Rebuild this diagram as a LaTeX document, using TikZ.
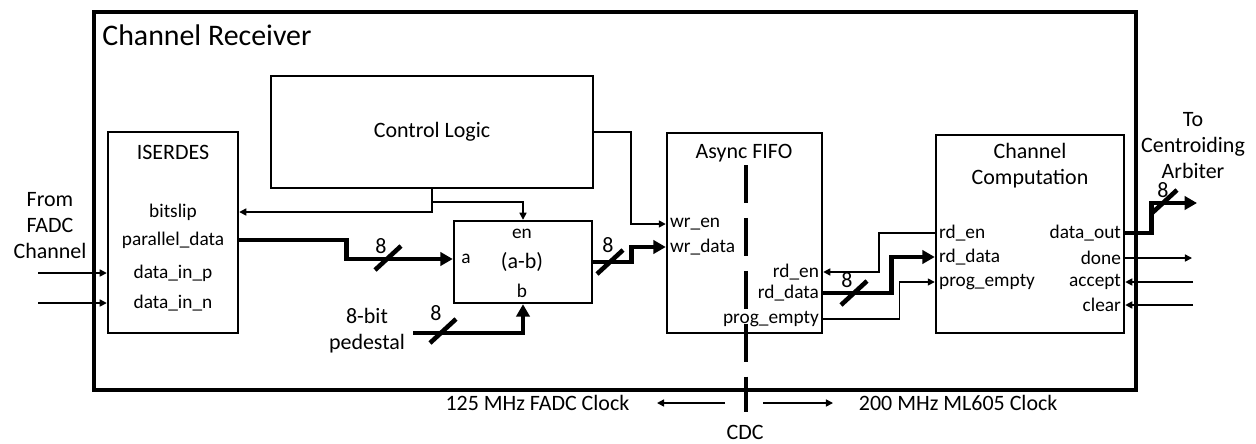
\documentclass[tikz,border=0pt]{standalone}
\usepackage{fontspec}
\setmainfont{Carlito}
\usetikzlibrary{positioning, arrows.meta, fit}

\begin{document}
\begin{tikzpicture}[
  x=0.02cm, y=-0.02cm,
  font=\fontsize{12.5}{14.8}\selectfont,
  box/.style={draw, line width=1.4pt, inner sep=0pt},
  outerbox/.style={draw, line width=2.3pt, inner sep=0pt},
  port/.style={font=\fontsize{11}{13}\selectfont, inner sep=1pt},
  sig/.style={line width=0.85pt, -{Triangle[length=4pt, width=4pt]}},
  bus/.style={line width=2.6pt, -{Triangle[length=7pt, width=7.5pt]}},
  slash/.style={line width=2.6pt},
  cdcline/.style={line width=2.6pt, dash pattern=on 21.6pt off 8.5pt},
]
\useasboundingbox (0,0) rectangle (1256,443);

% Blocks
\node[outerbox, fit={(94,12) (1136,390)}] (rx) {};
\node[anchor=west, inner sep=0pt, font=\fontsize{17}{20}\selectfont] (rxtitle) at (102,35) {Channel Receiver};

\node[box, fit={(108,132) (238,333)}] (iser) {};
\node[box, fit={(271,76) (593,188)}]  (ctrl) {};
\node[box, fit={(454,221) (592,303)}] (sub)  {};
\node[box, fit={(667,133) (822,333)}] (fifo) {};
\node[box, fit={(936,135) (1124,333)}] (comp) {};

% Titles
\node (isertitle) at (173,152) {ISERDES};
\node (ctrltitle) at (ctrl.center) {Control Logic};
\node (fifotitle) at (744,153) {Async FIFO};
\node[align=center] (comptitle) at (1030,166) {Channel\\Computation};
\node (subtitle) at (522,262) {(a-b)};

% ISERDES ports
\node[port] (bits)  at (173,212) {bitslip};
\node[port] (pdata) at (173,240) {parallel\_data};
\node[port] (dinp)  at (173,273) {data\_in\_p};
\node[port] (dinn)  at (173,303) {data\_in\_n};

% Subtractor ports
\node[port] (en)  at (522,234) {en};
\node[port] (ain) at (466,259) {a};
\node[port] (bin) at (522,291) {b};

% FIFO ports
\node[port, anchor=west] (wren)   at (668,224) {wr\_en};
\node[port, anchor=west] (wrdata) at (668,247) {wr\_data};
\node[port, anchor=east] (rden)   at (821,272) {rd\_en};
\node[port, anchor=east] (rddata) at (821,293) {rd\_data};
\node[port, anchor=east] (pe)     at (821,319) {prog\_empty};

% Channel Computation ports
\node[port, anchor=west] (ccrden)   at (937,233) {rd\_en};
\node[port, anchor=west] (ccrddata) at (937,257) {rd\_data};
\node[port, anchor=west] (ccpe)     at (937,282) {prog\_empty};
\node[port, anchor=east] (dout)     at (1123,233) {data\_out};
\node[port, anchor=east] (done)     at (1123,258) {done};
\node[port, anchor=east] (accept)   at (1123,282) {accept};
\node[port, anchor=east] (clear)    at (1123,305) {clear};

% Outside labels
\node[align=center] (fadc) at (50,226) {From\\FADC\\Channel};
\node[align=center] (arbtxt) at (1193,146) {To\\Centroiding\\Arbiter};
\node[align=center] (ped) at (367,331) {8-bit\\pedestal};

% Free ends
\coordinate (inp)   at (38,273);
\coordinate (inn)   at (38,303);
\coordinate (cbr)   at (432,202);
\coordinate (pedin) at (413,333);
\coordinate (arb)   at (1197,203);
\coordinate (donex) at (1192,258);
\coordinate (accx)  at (1193,282);
\coordinate (clrx)  at (1193,305);

% Inputs and control
\draw[sig] (inp) -- (iser.west |- dinp);
\draw[sig] (inn) -- (iser.west |- dinn);
\draw[sig] (ctrl.south) |- (iser.east |- bits);
\draw[sig] (cbr) -| (sub.north);
\draw[sig] (ctrl.east) -- ++(37,0) |- (fifo.west |- wren);

% Data buses
\draw[bus] (iser.east |- pdata) -- ++(107,0) |- (sub.west |- ain);
\draw[bus] (pedin) -| (sub.south);
\draw[bus] (sub.east) -- ++(38,0) |- (fifo.west |- wrdata);
\draw[bus] (fifo.east |- rddata) -- ++(68,0) |- (comp.west |- ccrddata);
\draw[bus] (comp.east |- dout) -- ++(26,0) |- (arb);

% FIFO read side
\draw[sig] (comp.west |- ccrden) -- ++(-56,0) |- (fifo.east |- rden);
\draw[sig] (fifo.east |- pe) -- ++(76,0) |- (comp.west |- ccpe);

% Handshake
\draw[sig] (comp.east |- done) -- (donex);
\draw[sig] (accx) -- (comp.east |- accept);
\draw[sig] (clrx) -- (comp.east |- clear);

% Bus width marks
\foreach \sx/\sy/\lx/\ly in {388/258/381/246, 443/331/436/313, 610/262/608/245, 854/293/847/280, 1164/202/1163/190}
  {\draw[slash] ([shift={(-13,12)}]\sx,\sy) -- ([shift={(13,-12)}]\sx,\sy);
   \node at (\lx,\ly) {8};}

% Clock domain crossing
\coordinate (cdctop) at (746,165);
\coordinate (cdcbot) at (746,412);
\draw[cdcline] (cdctop) -- (cdcbot);
\node (cdc) at (745,432) {CDC};
\coordinate (clkl) at (725,403);
\coordinate (clkr) at (763,403);
\draw[sig] (clkl) -- ++(-68,0) node[left=12pt] (fadcclk) {125 MHz FADC Clock};
\draw[sig] (clkr) -- ++(70,0) node[right=11pt] (mlclk) {200 MHz ML605 Clock};

\end{tikzpicture}
\end{document}
